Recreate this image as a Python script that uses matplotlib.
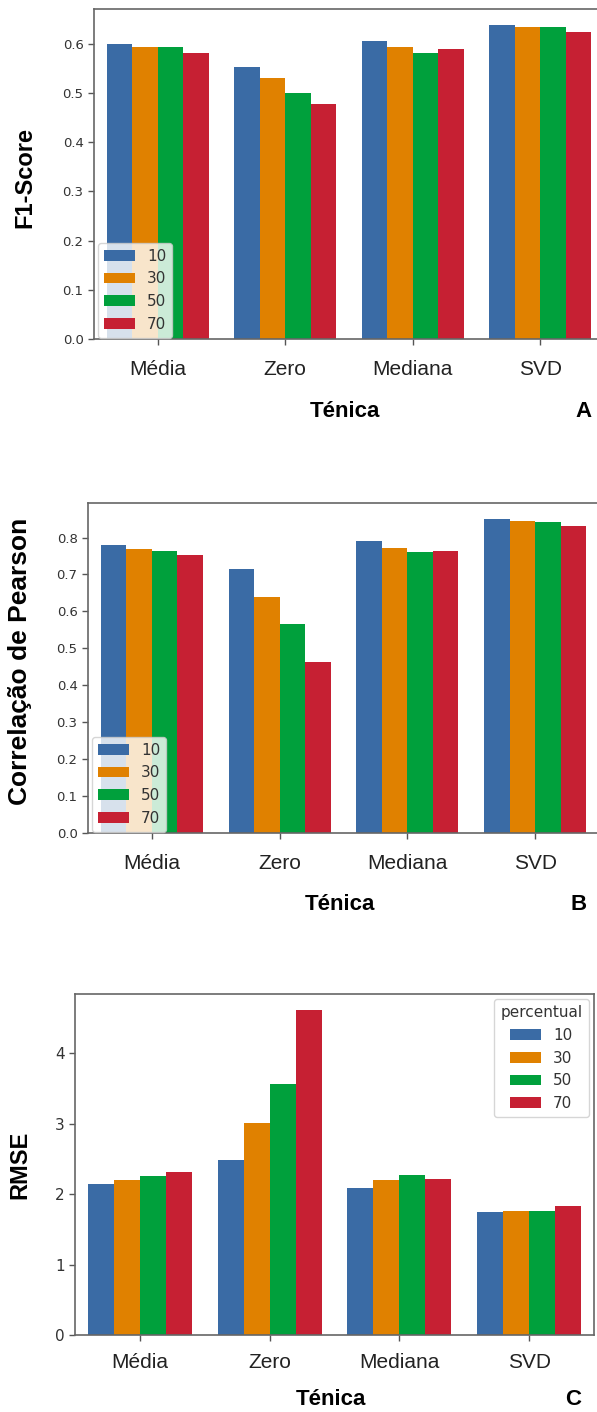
import matplotlib.pyplot as plt
import numpy as np

tecnicas = ["Média", "Zero", "Mediana", "SVD"]
percentuais = ["10", "30", "50", "70"]
cores = ["#3A6BA5", "#E08100", "#00A03C", "#C62033"]

# uma linha por percentual, colunas na ordem de tecnicas
f1_score = [
    [0.600, 0.553, 0.606, 0.639],
    [0.593, 0.530, 0.593, 0.634],
    [0.593, 0.500, 0.582, 0.634],
    [0.582, 0.478, 0.590, 0.624],
]
pearson = [
    [0.781, 0.714, 0.792, 0.851],
    [0.769, 0.640, 0.772, 0.846],
    [0.763, 0.566, 0.760, 0.841],
    [0.752, 0.463, 0.763, 0.830],
]
rmse = [
    [2.14, 2.49, 2.09, 1.74],
    [2.20, 3.01, 2.20, 1.76],
    [2.25, 3.56, 2.27, 1.76],
    [2.32, 4.61, 2.22, 1.83],
]

W, H = 597, 1412
fig = plt.figure(figsize=(W / 100, H / 100), dpi=100)


def eixo_px(esq, topo, dir, base):
    return fig.add_axes([esq / W, 1 - base / H, (dir - esq) / W, (base - topo) / H])


def desenha(ax, valores, ylabel, ylab_size, ylab_pos, xlab_pos, letra,
            ytick_size, xpad, legenda):
    x = np.arange(len(tecnicas))
    for i, (p, cor) in enumerate(zip(percentuais, cores)):
        ax.bar(x + (i - 1.5) * 0.2, valores[i], width=0.2, color=cor,
               label=p, linewidth=0)
    ax.set_xlim(-0.5, len(tecnicas) - 0.5)
    ax.set_xticks(x, tecnicas)
    for t in ax.get_xticklabels():
        t.set_fontfamily("Liberation Sans")
        t.set_fontsize(15)
        t.set_color("#222222")
    ax.tick_params(axis="x", length=4, width=1, color="#555555", pad=xpad)
    ax.tick_params(axis="y", length=4, width=1, color="#555555",
                   labelsize=ytick_size, labelcolor="#333333")
    for s in ax.spines.values():
        s.set_color("#666666")
        s.set_linewidth(1.2)

    ax.set_ylabel(ylabel, family="Liberation Sans", fontsize=ylab_size,
                  fontweight="bold", va="center")
    ax.yaxis.set_label_coords(*ylab_pos)
    ax.set_xlabel("Ténica", family="Liberation Sans", fontsize=16,
                  fontweight="bold", va="center")
    ax.xaxis.set_label_coords(*xlab_pos)
    ax.text(xlab_pos[0] + 0.466, xlab_pos[1], letra, transform=ax.transAxes,
            family="Liberation Sans", fontsize=16, fontweight="bold",
            ha="center", va="center")

    if legenda == "baixo":
        leg = ax.legend(loc="lower left", bbox_to_anchor=(0.008, 0.004),
                        borderaxespad=0, fontsize=11)
    else:
        leg = ax.legend(loc="upper right", borderaxespad=0.35, fontsize=11,
                        title="percentual", title_fontsize=11)
        leg.get_title().set_color("#333333")
    for t in leg.get_texts():
        t.set_color("#333333")


ax_a = eixo_px(94, 9, 604, 339)
desenha(ax_a, f1_score, "F1-Score", 17, (-0.135, 0.488), (0.493, -0.22),
        "A", 9.5, 11, "baixo")

ax_b = eixo_px(88, 503, 599, 833)
desenha(ax_b, pearson, "Correlação de Pearson", 19, (-0.133, 0.519),
        (0.494, -0.217), "B", 9.5, 11, "baixo")

ax_c = eixo_px(75, 994, 594, 1335)
desenha(ax_c, rmse, "RMSE", 17, (-0.106, 0.5), (0.493, -0.19),
        "C", 11, 9, "cima")

fig.savefig("out.png", dpi=100)
